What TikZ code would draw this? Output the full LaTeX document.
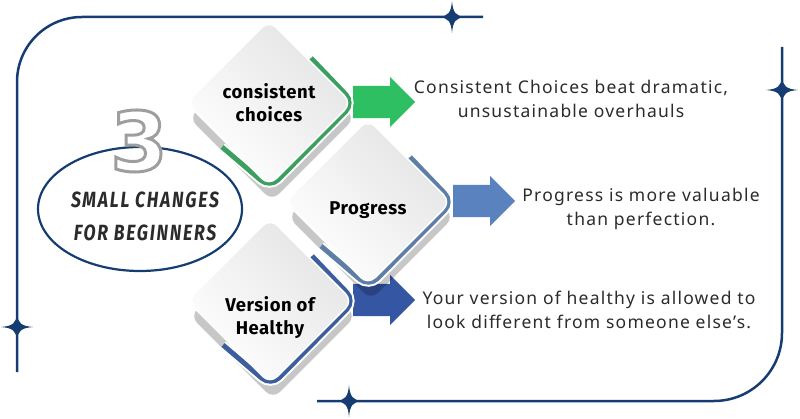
\documentclass[tikz,border=0pt]{standalone}
\usepackage{fontspec}
\setmainfont{Noto Sans}
\newfontfamily\bodyfont[LetterSpace=7]{Noto Sans}
\newfontfamily\cardfont[LetterSpace=3]{Fira Sans}
\newfontfamily\headfont[FakeStretch=0.8,LetterSpace=8]{Fira Sans}
\newfontfamily\numfont{DejaVu Sans}
\usetikzlibrary{shapes.geometric,shapes.arrows,calc}

\definecolor{navy}{HTML}{163D72}
\definecolor{cardgray}{HTML}{E4E4E4}
\definecolor{arrowgreen}{HTML}{2EBF62}
\definecolor{accentgreen}{HTML}{3B9F5F}
\definecolor{arrowsteel}{HTML}{5A82BE}
\definecolor{accentsteel}{HTML}{5E7EA8}
\definecolor{arrowroyal}{HTML}{3456A3}
\definecolor{accentroyal}{HTML}{3C5E9C}
\definecolor{inkgray}{HTML}{2B2B2B}

% outlined glyphs (fill + stroke)
\newcommand{\outlined}[1]{\special{pdf:literal direct 2 Tr 3 w 0.62 G}#1\special{pdf:literal direct 0 Tr}}

\tikzset{
  frame/.style={navy, line width=2.5pt},
  sparkle/.pic={\fill[navy] (0,-16) .. controls (1,-4) and (4,-1) .. (13,0) .. controls (4,1) and (1,4) .. (0,16) .. controls (-1,4) and (-4,1) .. (-13,0) .. controls (-4,-1) and (-1,-4) .. (0,-16) -- cycle;},
  card/.style={diamond, aspect=1, minimum size=166pt, inner sep=0pt, rounded corners=10pt,
    draw=white, line width=1.5pt, left color=cardgray, right color=white, shading angle=-45},
  cardshadow/.style={diamond, aspect=1, minimum size=166pt, inner sep=0pt, rounded corners=10pt,
    fill=black, opacity=0.22},
  cardtext/.style={font=\cardfont\fontsize{18.5}{23}\selectfont\bfseries, text=black, align=center},
  desc/.style={font=\bodyfont\fontsize{17.5}{24}\selectfont, text=inkgray, align=center},
  blockarrow/.style={single arrow, single arrow head extend=9pt, minimum height=62pt,
    minimum width=50pt, inner xsep=0pt, inner ysep=16pt, anchor=tail}
}

\begin{document}
\begin{tikzpicture}[x=1pt,y=-1pt]
  \useasboundingbox (0,0) rectangle (800,419);

  % Frame brackets
  \draw[frame, rounded corners=65pt] (17,372) -- (17,17) -- (483,17);
  \draw[frame, rounded corners=68pt] (782,47) -- (782,401) -- (317,401);
  \pic (starTop) at (452,17) {sparkle};
  \pic (starBottom) at (349,401) {sparkle};
  \pic[rotate=90] (starLeft) at (17,327) {sparkle};
  \pic[rotate=90] (starRight) at (782,90) {sparkle};

  % Badge
  \node[ellipse, draw=navy, line width=2.2pt, fill=white, minimum width=204pt, minimum height=124pt] (badge) at (140,209) {};
  \node[font=\numfont\fontsize{82}{82}\selectfont\bfseries, text=white, inner sep=0pt] (three) at (139,141) {\outlined{3}};
  \node[font=\headfont\fontsize{22}{33}\selectfont\bfseries\itshape, text=inkgray, align=center] (headline) at (145,216) {SMALL CHANGES\\FOR BEGINNERS};

  % Arrows
  \node[blockarrow, fill=arrowgreen] (arrow1) at (353,102) {};
  \node[blockarrow, fill=arrowsteel] (arrow2) at (453,201) {};
  \node[blockarrow, fill=arrowroyal] (arrow3) at (353,300) {};

  % Cards
  \foreach \n/\cx/\cy/\acc/\txt/\ty in {1/269/103/accentgreen/{consistent\\choices}/0,
      2/368/202/accentsteel/{Progress}/8,
      3/270/301/accentroyal/{Version of\\Healthy}/17} {
    \begin{scope}[shift={(\cx,\cy)}]
      \node[cardshadow] (shadow\n) at (3,15) {};
      \draw[white, line width=9pt, rounded corners=12pt] (42,-45) -- (85,0) -- (1,85) -- (-47,44);
      \draw[\acc, line width=5pt, rounded corners=12pt] (42,-45) -- (85,0) -- (1,85) -- (-47,44);
      \node[card] (card\n) at (0,0) {};
      \node[cardtext] (label\n) at (0,\ty) {\txt};
    \end{scope}
  }

  % Descriptions
  \node[desc] (desc1) at (571,99) {Consistent Choices beat dramatic,\\unsustainable overhauls};
  \node[desc] (desc2) at (641,209) {Progress is more valuable\\than perfection.};
  \node[desc] (desc3) at (589,310) {Your version of healthy is allowed to\\look different from someone else’s.};
\end{tikzpicture}
\end{document}
